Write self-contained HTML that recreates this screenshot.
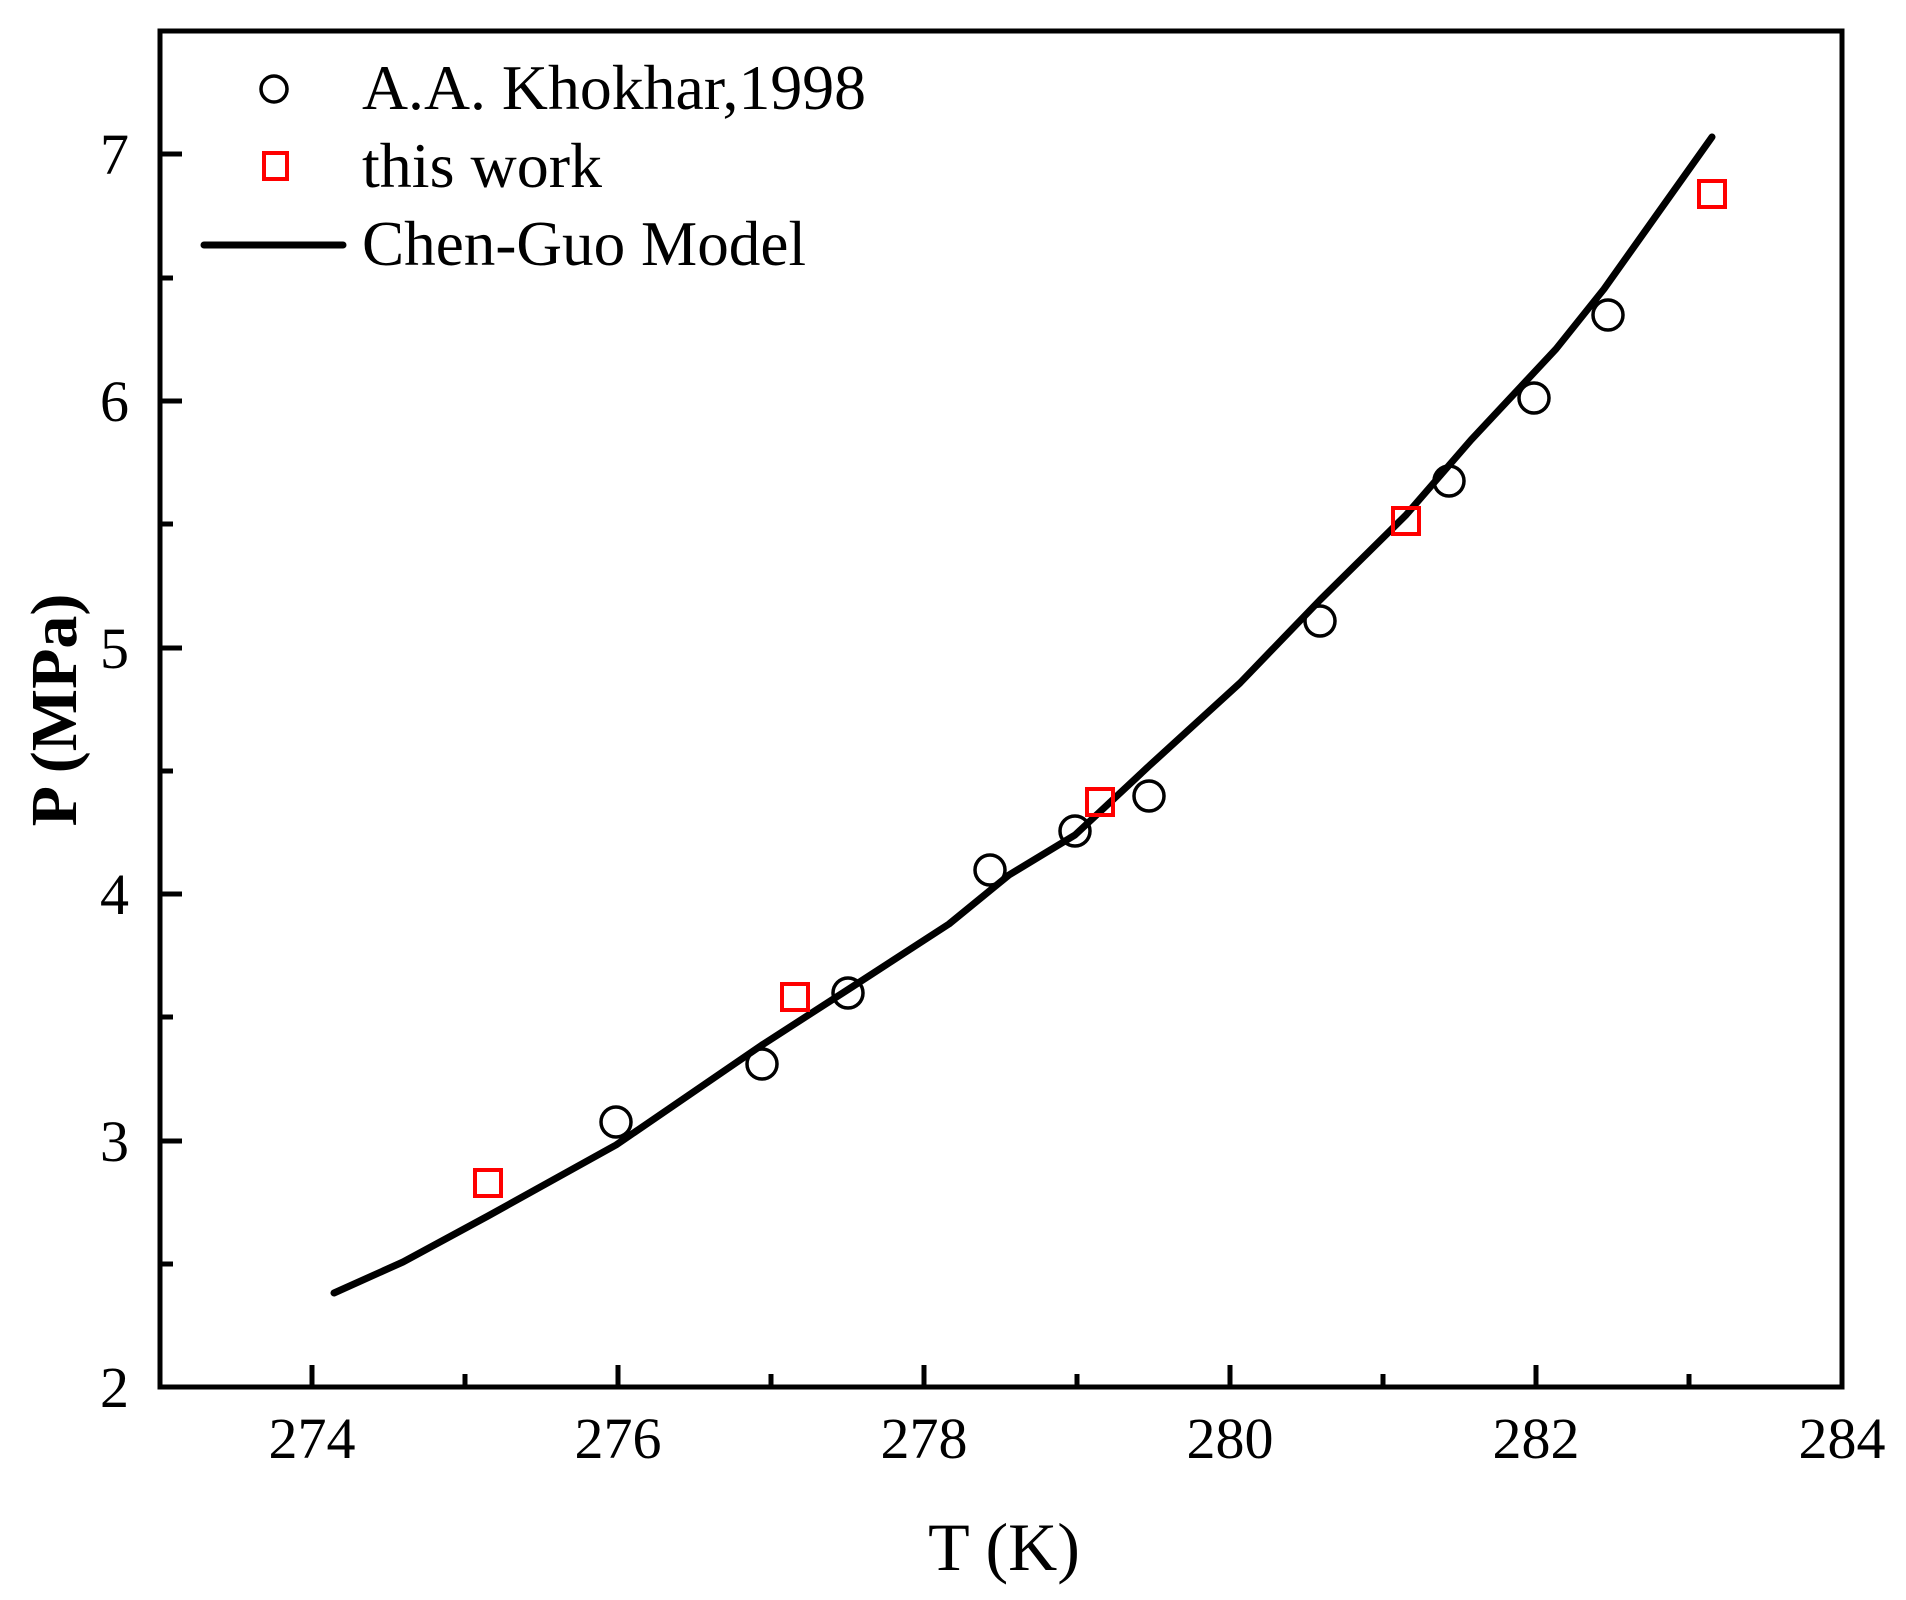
<!DOCTYPE html>
<html><head><meta charset="utf-8"><style>
html,body{margin:0;padding:0;background:#fff;}
svg{display:block;}
text{font-family:"Liberation Serif",serif;fill:#000;}
</style></head><body>
<svg width="1906" height="1600" viewBox="0 0 1906 1600" xmlns="http://www.w3.org/2000/svg">
<rect width="1906" height="1600" fill="#fff"/>
<!-- ticks -->
<g stroke="#000" stroke-width="5">
<line x1="312" y1="1387" x2="312" y2="1365"/>
<line x1="465" y1="1387" x2="465" y2="1374"/>
<line x1="618" y1="1387" x2="618" y2="1365"/>
<line x1="771" y1="1387" x2="771" y2="1374"/>
<line x1="924" y1="1387" x2="924" y2="1365"/>
<line x1="1077" y1="1387" x2="1077" y2="1374"/>
<line x1="1230" y1="1387" x2="1230" y2="1365"/>
<line x1="1383" y1="1387" x2="1383" y2="1374"/>
<line x1="1536" y1="1387" x2="1536" y2="1365"/>
<line x1="1689" y1="1387" x2="1689" y2="1374"/>
<line x1="160" y1="1264" x2="173" y2="1264"/>
<line x1="160" y1="1141" x2="182" y2="1141"/>
<line x1="160" y1="1017" x2="173" y2="1017"/>
<line x1="160" y1="894" x2="182" y2="894"/>
<line x1="160" y1="771" x2="173" y2="771"/>
<line x1="160" y1="648" x2="182" y2="648"/>
<line x1="160" y1="524" x2="173" y2="524"/>
<line x1="160" y1="401" x2="182" y2="401"/>
<line x1="160" y1="278" x2="173" y2="278"/>
<line x1="160" y1="154" x2="182" y2="154"/>
</g>
<rect x="160" y="31" width="1682" height="1356" fill="none" stroke="#000" stroke-width="5"/>
<!-- tick labels -->
<g font-size="58" text-anchor="middle">
<text x="312" y="1458">274</text>
<text x="618" y="1458">276</text>
<text x="924" y="1458">278</text>
<text x="1230" y="1458">280</text>
<text x="1536" y="1458">282</text>
<text x="1842" y="1458">284</text>
</g>
<g font-size="58" text-anchor="end">
<text x="129" y="1407">2</text>
<text x="129" y="1161">3</text>
<text x="129" y="914">4</text>
<text x="129" y="668">5</text>
<text x="129" y="421">6</text>
<text x="129" y="174">7</text>
</g>
<text x="1004" y="1570" font-size="68" text-anchor="middle">T (K)</text>
<text transform="translate(76,710) rotate(-90)" font-size="66" font-weight="bold" text-anchor="middle">P (MPa)</text>
<!-- model line -->
<polyline fill="none" stroke="#000" stroke-width="7" stroke-linecap="round" stroke-linejoin="round"
points="334,1293 403,1262 488,1216 616,1145 762,1045 852,987 949,924 1009,875 1075,835 1149,766 1240,683 1320,600 1406,515 1471,440 1556,349 1604,289 1712,137"/>
<!-- circles -->
<g fill="none" stroke="#000" stroke-width="3.5">
<circle cx="616" cy="1122" r="15"/>
<circle cx="762" cy="1064" r="15"/>
<circle cx="848" cy="993" r="15"/>
<circle cx="990" cy="870" r="15"/>
<circle cx="1075" cy="831" r="15"/>
<circle cx="1149" cy="796" r="15"/>
<circle cx="1320" cy="621" r="15"/>
<circle cx="1449" cy="481" r="15"/>
<circle cx="1534" cy="398" r="15"/>
<circle cx="1608" cy="315" r="15"/>
<circle cx="274" cy="89" r="13"/>
</g>
<!-- squares -->
<g fill="none" stroke="#f00" stroke-width="4">
<rect x="475" y="1170" width="26" height="26"/>
<rect x="782" y="984" width="26" height="26"/>
<rect x="1087" y="789" width="26" height="26"/>
<rect x="1393" y="508" width="26" height="26"/>
<rect x="1699" y="181" width="26" height="26"/>
<rect x="264" y="153" width="23" height="26"/>
</g>
<line x1="204" y1="245" x2="343" y2="245" stroke="#000" stroke-width="7" stroke-linecap="round"/>
<g font-size="64">
<text x="362" y="109" textLength="504" lengthAdjust="spacingAndGlyphs">A.A. Khokhar,1998</text>
<text x="362" y="187">this work</text>
<text x="362" y="265" textLength="444" lengthAdjust="spacingAndGlyphs">Chen-Guo Model</text>
</g>
</svg>
</body></html>
